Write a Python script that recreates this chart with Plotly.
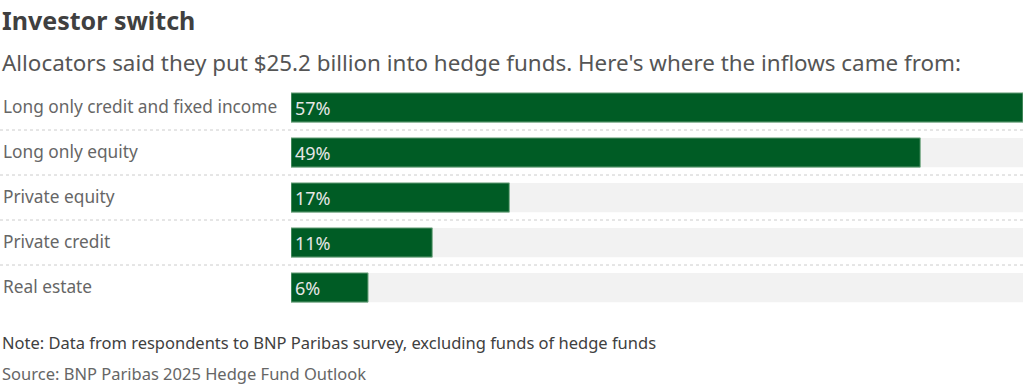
import plotly.graph_objects as go

categories = ["Long only credit and fixed income", "Long only equity", "Private equity",
              "Private credit", "Real estate"]
values = [57, 49, 17, 11, 6]
track_max = 57

W, H = 1024, 384
T, B = 85, 74
FONT = "Noto Sans"


def py(pixel):
    # convert a pixel row (from the top of the figure) to paper y
    return (H - B - pixel) / (H - T - B)


fig = go.Figure()
fig.add_trace(go.Bar(
    y=categories, x=[track_max] * len(categories), orientation="h",
    marker=dict(color="#f2f2f2", line=dict(width=0)), width=0.65,
    hoverinfo="skip", showlegend=False))
fig.add_trace(go.Bar(
    y=categories, x=values, orientation="h",
    marker=dict(color="#005c25", line=dict(color="#7fae8c", width=1)), width=0.65,
    showlegend=False))

annotations = []
for c, v in zip(categories, values):
    annotations.append(dict(x=0, y=c, xref="x", yref="y", text=f"{v}%", showarrow=False,
                            xanchor="left", xshift=2, font=dict(family=FONT, size=18, color="#e6e6e6")))
    annotations.append(dict(x=1 / W, y=c, xref="paper", yref="y", text=c, showarrow=False,
                            xanchor="left", yshift=1, font=dict(family=FONT, size=17.3, color="#666666")))

annotations += [
    dict(x=0, y=py(20), xref="paper", yref="paper", text="<b>Investor switch</b>", showarrow=False,
         xanchor="left", yanchor="middle", font=dict(family=FONT, size=25, color="#404040")),
    dict(x=0, y=py(62), xref="paper", yref="paper",
         text="Allocators said they put $25.2 billion into hedge funds. Here's where the inflows came from:",
         showarrow=False, xanchor="left", yanchor="middle", font=dict(family=FONT, size=22.4, color="#555555")),
    dict(x=0, y=py(342), xref="paper", yref="paper",
         text="Note: Data from respondents to BNP Paribas survey, excluding funds of hedge funds",
         showarrow=False, xanchor="left", yanchor="middle", font=dict(family=FONT, size=16.5, color="#404040")),
    dict(x=0, y=py(373), xref="paper", yref="paper",
         text="Source: BNP Paribas 2025 Hedge Fund Outlook",
         showarrow=False, xanchor="left", yanchor="middle", font=dict(family=FONT, size=16.5, color="#666666")),
]

shapes = []
for i in range(len(categories) - 1):
    shapes.append(dict(type="line", xref="paper", yref="y", x0=0, x1=1023 / W, y0=i + 0.5, y1=i + 0.5,
                       line=dict(color="#cccccc", width=1, dash="dot")))

fig.update_layout(
    width=W, height=H, barmode="overlay",
    margin=dict(l=0, r=0, t=T, b=B),
    paper_bgcolor="white", plot_bgcolor="white",
    xaxis=dict(domain=[291 / W, 1023 / W], range=[0, track_max], showgrid=False, zeroline=False,
               showticklabels=False, fixedrange=True),
    yaxis=dict(range=[4.5, -0.5], showgrid=False, zeroline=False, showticklabels=False, fixedrange=True),
    annotations=annotations, shapes=shapes,
    font=dict(family=FONT),
)

fig.write_html("out.html", config={"displayModeBar": False},
               post_script="document.body.style.margin='0';document.body.style.overflow='hidden';")
